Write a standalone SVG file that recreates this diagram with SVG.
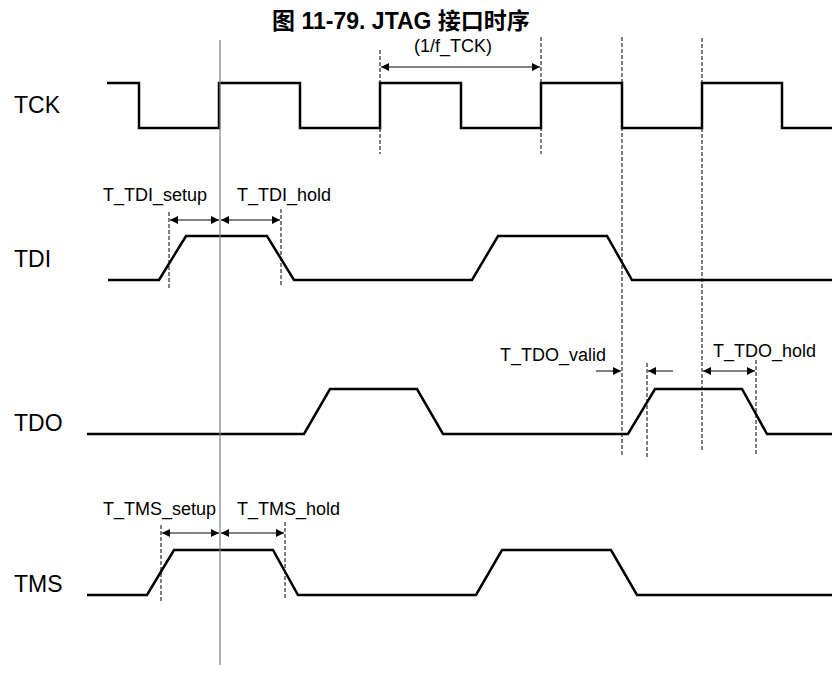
<svg xmlns="http://www.w3.org/2000/svg" width="832" height="673" viewBox="0 0 832 673">
<defs>
<marker id="ah" viewBox="0 0 10 10" refX="10" refY="5" markerWidth="11" markerHeight="8" markerUnits="userSpaceOnUse" orient="auto-start-reverse">
<path d="M0,0 L10,5 L0,10 z" fill="#000"/>
</marker>
</defs>
<style>
.sig{fill:none;stroke:#000;stroke-width:2.5;stroke-linejoin:miter}
.dash{stroke:#000;stroke-width:1;stroke-dasharray:4,2;fill:none}
.ref{stroke:#808080;stroke-width:1.2;fill:none}
.arr{stroke:#000;stroke-width:1;fill:none}
.lbl{font-family:"Liberation Sans",Arial,sans-serif;font-size:18px;fill:#000}
.name{font-family:"Liberation Sans",Arial,sans-serif;font-size:23px;fill:#000}
.title{font-family:"Liberation Sans","Noto Sans CJK SC",sans-serif;font-size:23px;font-weight:bold;fill:#000}
</style>
<rect width="832" height="673" fill="#fff"/>
<text class="title" x="401" y="29" text-anchor="middle">图 11-79. JTAG 接口时序</text>
<g id="TCK">
<text class="name" x="14" y="113">TCK</text>
<path class="sig" d="M107,83 H139 V128 H219 V83 H300 V128 H380 V83 H461 V128 H541 V83 H622 V128 H702 V83 H782 V128 H832"/>
</g>
<g id="TDI">
<text class="name" x="14" y="267">TDI</text>
<path class="sig" d="M108,280 H159 L186,236 H267 L294,280 H472 L498,236 H607 L632,280 H832"/>
</g>
<g id="TDO">
<text class="name" x="14" y="431">TDO</text>
<path class="sig" d="M87,434 H304 L330,389 H417 L443,434 H628 L655,389 H742 L767,434 H832"/>
</g>
<g id="TMS">
<text class="name" x="14" y="592">TMS</text>
<path class="sig" d="M87,595 H147 L174,550 H273 L298,595 H476 L502,550 H611 L637,595 H832"/>
</g>
<g id="connectors">
<line class="ref" x1="220" y1="40" x2="220" y2="665"/>
<line class="dash" x1="380" y1="50" x2="380" y2="154"/>
<line class="dash" x1="541" y1="37" x2="541" y2="154"/>
<line class="dash" x1="622" y1="37" x2="622" y2="456"/>
<line class="dash" x1="702" y1="38" x2="702" y2="452"/>
<line class="dash" x1="169" y1="212" x2="169" y2="288"/>
<line class="dash" x1="281" y1="209" x2="281" y2="286"/>
<line class="dash" x1="647" y1="363" x2="647" y2="458"/>
<line class="dash" x1="756" y1="360" x2="756" y2="456"/>
<line class="dash" x1="161" y1="525" x2="161" y2="602"/>
<line class="dash" x1="285" y1="522" x2="285" y2="600"/>
<line class="arr" x1="381" y1="67" x2="540" y2="67" marker-start="url(#ah)" marker-end="url(#ah)"/>
<line class="arr" x1="170" y1="220" x2="219" y2="220" marker-start="url(#ah)" marker-end="url(#ah)"/>
<line class="arr" x1="221" y1="220" x2="280" y2="220" marker-start="url(#ah)" marker-end="url(#ah)"/>
<line class="arr" x1="596" y1="371" x2="621" y2="371" marker-end="url(#ah)"/>
<line class="arr" x1="648" y1="371" x2="673" y2="371" marker-start="url(#ah)"/>
<line class="arr" x1="703" y1="371" x2="755" y2="371" marker-start="url(#ah)" marker-end="url(#ah)"/>
<line class="arr" x1="162" y1="533" x2="219" y2="533" marker-start="url(#ah)" marker-end="url(#ah)"/>
<line class="arr" x1="221" y1="533" x2="284" y2="533" marker-start="url(#ah)" marker-end="url(#ah)"/>
</g>
<g id="labels">
<text class="lbl" x="453" y="52" text-anchor="middle">(1/f_TCK)</text>
<text class="lbl" x="103" y="201">T_TDI_setup</text>
<text class="lbl" x="237" y="201">T_TDI_hold</text>
<text class="lbl" x="500" y="361">T_TDO_valid</text>
<text class="lbl" x="713" y="357">T_TDO_hold</text>
<text class="lbl" x="103" y="515">T_TMS_setup</text>
<text class="lbl" x="237" y="515">T_TMS_hold</text>
</g>
</svg>
